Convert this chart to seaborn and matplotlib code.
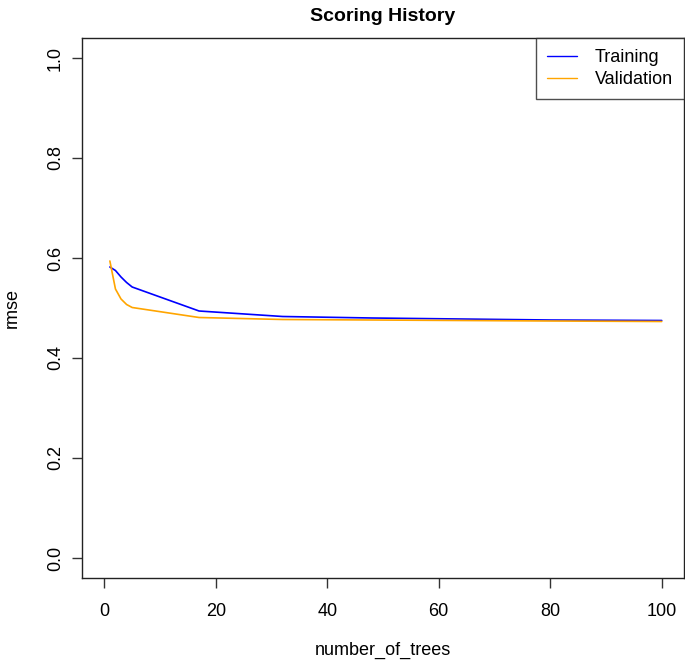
import pandas as pd
import matplotlib.pyplot as plt
import seaborn as sns

# Scoring history values
trees = [1, 2, 3, 4, 5, 17, 32, 48, 64, 80, 100]
training_rmse = [0.582, 0.575, 0.562, 0.551, 0.542, 0.494, 0.483, 0.480, 0.478, 0.476, 0.475]
validation_rmse = [0.594, 0.538, 0.518, 0.507, 0.501, 0.481, 0.477, 0.476, 0.475, 0.474, 0.473]
series_names = ["Training", "Validation"]
series_colors = ["blue", "orange"]
y_ticks = [0.0, 0.2, 0.4, 0.6, 0.8, 1.0]
x_ticks = [0, 20, 40, 60, 80, 100]

history = pd.DataFrame({
    "number_of_trees": trees * 2,
    "rmse": training_rmse + validation_rmse,
    "Series": [series_names[0]] * len(trees) + [series_names[1]] * len(trees),
})

sns.set_style("white")
plt.rcParams["font.family"] = ["Liberation Sans", "DejaVu Sans"]
plt.rcParams["text.color"] = "black"
plt.rcParams["axes.labelcolor"] = "black"
plt.rcParams["xtick.color"] = "black"
plt.rcParams["ytick.color"] = "black"

fig = plt.figure(figsize=(6.85, 6.63), dpi=100)
ax = fig.add_axes([82 / 685, 1 - 578 / 663, 602 / 685, 540 / 663])

sns.lineplot(
    data=history,
    x="number_of_trees",
    y="rmse",
    hue="Series",
    palette=dict(zip(series_names, series_colors)),
    linewidth=1.2,
    legend=False,
    ax=ax,
)

# R-style axis padding: 4% of the 0..100 / 0..1 range
ax.set_xlim(-4, 104)
ax.set_ylim(-0.04, 1.04)
ax.set_xticks(x_ticks)
ax.set_yticks(y_ticks)
ax.set_xticklabels([str(t) for t in x_ticks], fontsize=13)
ax.set_yticklabels([f"{t:.1f}" for t in y_ticks], fontsize=13, rotation=90, va="center")
ax.tick_params(axis="both", direction="out", length=7, width=1, color="#333333",
               left=True, bottom=True)
ax.tick_params(axis="x", pad=11)
ax.tick_params(axis="y", pad=6)

for spine in ax.spines.values():
    spine.set_visible(True)
    spine.set_color("#222222")
    spine.set_linewidth(1)

ax.set_xlabel("number_of_trees", fontsize=13, labelpad=16)
ax.set_ylabel("rmse", fontsize=13, labelpad=19)
ax.set_title("Scoring History", fontsize=14, fontweight="bold", pad=12)

handles = [plt.Line2D([], [], color=c, linewidth=1) for c in series_colors]
legend = ax.legend(
    handles,
    series_names,
    loc="upper right",
    bbox_to_anchor=(1.0, 1.0),
    borderaxespad=0,
    fontsize=13,
    frameon=True,
    fancybox=False,
    handlelength=1.65,
    handletextpad=1.0,
    borderpad=0.6,
    labelspacing=0.28,
)
legend.get_frame().set_edgecolor("#222222")
legend.get_frame().set_linewidth(1)

fig.savefig("out.png", dpi=100)
